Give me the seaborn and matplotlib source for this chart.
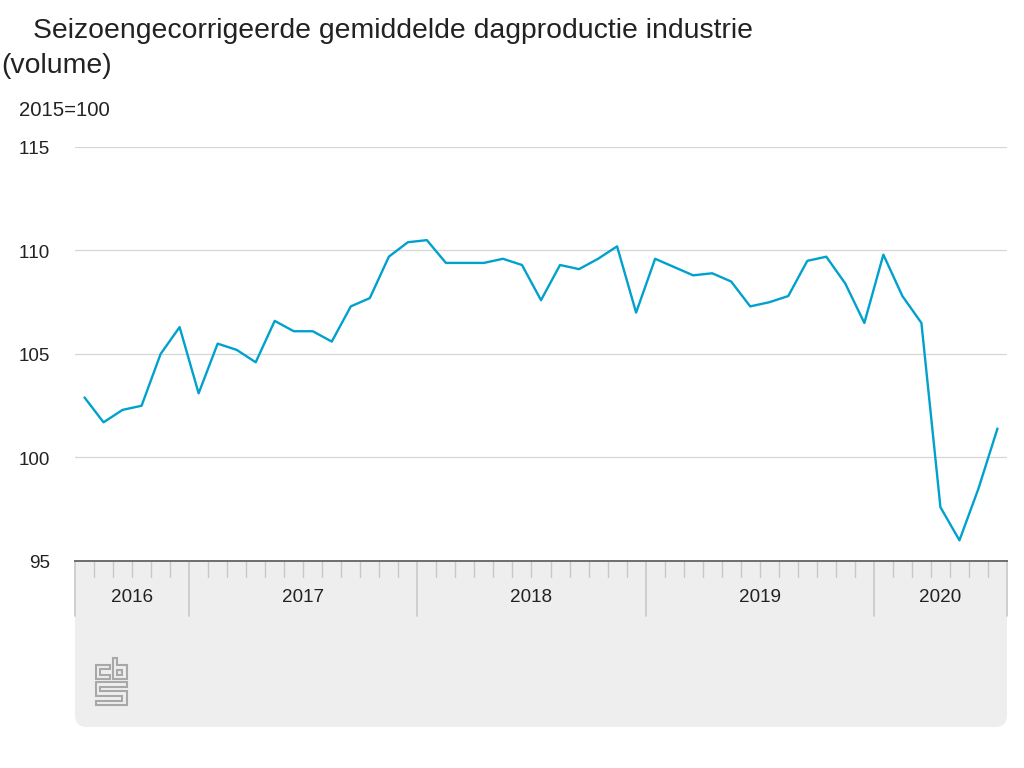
"""
plot.py

Seizoengecorrigeerde gemiddelde dagproductie industrie, CBS style line chart.
"""

import numpy as np
import pandas as pd
import matplotlib
matplotlib.use("Agg")
import matplotlib.pyplot as plt
from matplotlib.patches import PathPatch
from matplotlib.path import Path
from matplotlib.transforms import ScaledTranslation
import seaborn as sns

# Chart data
title_lines = ["Seizoengecorrigeerde gemiddelde dagproductie industrie", "(volume)"]
unit_label = "2015=100"
y_ticks = [95, 100, 105, 110, 115]
years = ["2016", "2017", "2018", "2019", "2020"]
months_in_year = [6, 12, 12, 12, 7]
values_2016 = [102.9, 101.7, 102.3, 102.5, 105.0, 106.3]
values_2017 = [103.1, 105.5, 105.2, 104.6, 106.6, 106.1, 106.1, 105.6, 107.3, 107.7, 109.7, 110.4]
values_2018 = [110.5, 109.4, 109.4, 109.4, 109.6, 109.3, 107.6, 109.3, 109.1, 109.6, 110.2, 107.0]
values_2019 = [109.6, 109.2, 108.8, 108.9, 108.5, 107.3, 107.5, 107.8, 109.5, 109.7, 108.4, 106.5]
values_2020 = [109.8, 107.8, 106.5, 97.6, 96.0, 98.5, 101.4]

LINE_COLOR = "#00a1cd"
PANEL_COLOR = "#eeeeee"
GRID_COLOR = "#d6d6d6"
TICK_COLOR = "#c8c8c8"
TEXT_COLOR = "#222222"
W, H = 1024, 768


def main():
    sns.set_theme(style="white")
    plt.rcParams["font.family"] = ["Liberation Sans", "DejaVu Sans"]
    plt.rcParams["text.kerning_factor"] = 6

    values = values_2016 + values_2017 + values_2018 + values_2019 + values_2020
    df = pd.DataFrame({"month": np.arange(len(values)) + 0.5, "index": values})

    fig = plt.figure(figsize=(W / 100, H / 100), dpi=100)

    # Pixel overlay for the panel below the plot
    bg = fig.add_axes([0, 0, 1, 1], zorder=0)
    bg.set_xlim(0, W)
    bg.set_ylim(H, 0)
    bg.axis("off")

    # Grey panel, rounded at the bottom only
    l, r, t, b, rad = 75, 1007, 561, 727, 12
    verts = [(l, t), (r, t), (r, b - rad), (r, b), (r - rad, b), (l + rad, b), (l, b), (l, b - rad), (l, t)]
    codes = [Path.MOVETO, Path.LINETO, Path.LINETO, Path.CURVE3, Path.CURVE3,
             Path.LINETO, Path.CURVE3, Path.CURVE3, Path.CLOSEPOLY]
    bg.add_patch(PathPatch(Path(verts, codes), facecolor=PANEL_COLOR, edgecolor="none"))

    # CBS logo
    logo = [
        [(96, 679), (96, 665), (110, 665), (110, 669), (100, 669), (100, 675), (110, 675), (110, 679), (96, 679)],
        [(112.5, 679), (112.5, 657.5), (117, 657.5), (117, 665), (127, 665), (127, 679), (112.5, 679)],
        [(116.5, 669.5), (122, 669.5), (122, 674.5), (116.5, 674.5), (116.5, 669.5)],
        [(96, 682), (127, 682), (127, 686.5), (100, 686.5), (100, 691), (127, 691), (127, 705),
         (96, 705), (96, 700.5), (122, 700.5), (122, 696), (96, 696), (96, 682)],
    ]
    for part in logo:
        xs, ys = zip(*part)
        bg.plot(xs, ys, color="#a8a8a8", lw=1.5, solid_joinstyle="miter")

    ax = fig.add_axes([75 / W, 1 - 561 / H, 932 / W, (561 - 147) / H], zorder=1)
    ax.patch.set_alpha(0)

    sns.lineplot(data=df, x="month", y="index", color=LINE_COLOR, linewidth=1.7, ax=ax,
                 clip_on=False, zorder=3)

    ax.set_xlim(0, len(values))
    ax.set_ylim(y_ticks[0], y_ticks[-1])
    ax.set_xlabel("")
    ax.set_ylabel("")
    ax.set_xticks([])
    ax.set_yticks(y_ticks)
    ax.tick_params(axis="y", length=0, pad=18, labelsize=13.6, labelcolor=TEXT_COLOR)
    nudge = ScaledTranslation(0, -2 / 72, fig.dpi_scale_trans)
    for lab in ax.get_yticklabels():
        lab.set_va("center")
        lab.set_transform(lab.get_transform() + nudge)
    for tick in y_ticks[1:]:
        ax.axhline(tick, color=GRID_COLOR, lw=0.9, zorder=1)

    for side in ["top", "left", "right"]:
        ax.spines[side].set_visible(False)
    ax.spines["bottom"].set_color("#6e6e6e")
    ax.spines["bottom"].set_linewidth(1.4)

    # Month ticks and year dividers hang below the axis
    trans = ax.get_xaxis_transform()
    px = 1 / (561 - 147)
    start = 0
    edges = [0]
    for year, n in zip(years, months_in_year):
        for m in range(start + 1, start + n):
            ax.plot([m, m], [0, -16 * px], transform=trans, color=TICK_COLOR, lw=1.0, clip_on=False)
        ax.text(start + n / 2, -41 * px, year, transform=trans, ha="center", va="baseline",
                fontsize=13.6, color=TEXT_COLOR)
        start += n
        edges.append(start)
    for e in edges:
        ax.plot([e, e], [0, -55 * px], transform=trans, color=TICK_COLOR, lw=1.2, clip_on=False)

    # Title and unit
    fig.text(33 / W, 1 - 38 / H, title_lines[0], fontsize=20.4, color=TEXT_COLOR, va="baseline", ha="left")
    fig.text(1 / W, 1 - 73 / H, title_lines[1], fontsize=20.4, color=TEXT_COLOR, va="baseline", ha="left")
    fig.text(19 / W, 1 - 116 / H, unit_label, fontsize=14.6, color=TEXT_COLOR, va="baseline", ha="left")

    fig.savefig("out.png", dpi=100)
    plt.close(fig)


if __name__ == "__main__":
    main()
